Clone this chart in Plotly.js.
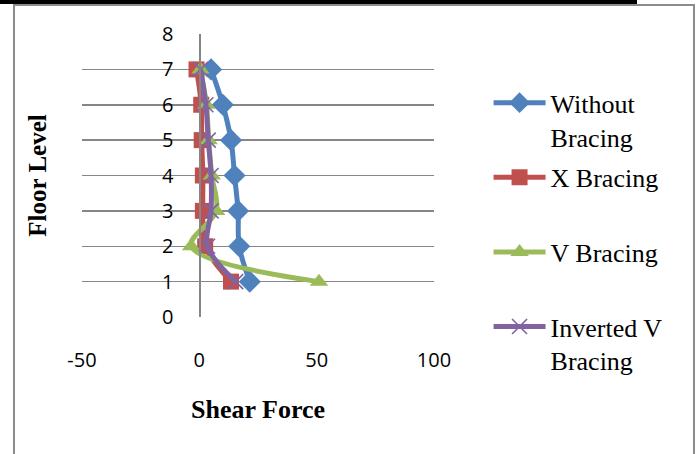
<!DOCTYPE html>
<html><head><meta charset="utf-8">
<script src="https://cdn.plot.ly/plotly-3.0.1.min.js"></script>
<style>
html,body{margin:0;padding:0;background:#fff;overflow:hidden}
#chart{position:absolute;left:0;top:0;width:696px;height:454px}
#topbar{position:absolute;left:0;top:0;width:637px;height:4px;background:#000}
#frame{position:absolute;left:13px;top:4px;width:678px;height:470px;border:2px solid #8c8c8c;border-bottom:none;pointer-events:none}
</style></head><body>
<div id="chart"></div>
<div id="topbar"></div>
<div id="frame"></div>
<script>
// Floor levels (y values)
const floors = [1, 2, 3, 4, 5, 6, 7];
// Shear force per floor for each series
const withoutBracing = [21.5, 17, 16.5, 15, 13.5, 10, 5];
const xBracing = [13.5, 2.5, 1.5, 1.5, 1, 0.8, -1.2];
const vBracing = [51, -3.5, 7.2, 5.3, 4, 3, 0.5];
const invertedVBracing = [15.5, 3.5, 5, 5, 3.8, 2.8, 0.5];
// Legend labels
const seriesNames = ["Without<br>Bracing", "X Bracing<br>\u00A0", "V Bracing<br>\u00A0", "Inverted V<br>Bracing"];
// Axis ticks
const xTicks = [-50, 0, 50, 100];
const yTicks = [0, 1, 2, 3, 4, 5, 6, 7, 8];

const colors = ["#4F81BD", "#C0504D", "#9BBB59", "#8064A2"];
const symbols = ["diamond", "square", "triangle-up", "x-thin"];
const sizes = [17, 16, 16, 15];
const seriesVals = [withoutBracing, xBracing, vBracing, invertedVBracing];

const traces = seriesVals.map((vals, i) => ({
  type: "scatter",
  mode: "lines+markers",
  x: vals,
  y: floors,
  name: seriesNames[i],
  legendgroup: "g" + i,
  line: {color: colors[i], width: 5, shape: "spline", smoothing: 1},
  marker: {
    symbol: symbols[i], size: sizes[i], color: colors[i],
    line: i === 3 ? {color: colors[i], width: 1.6} : {width: 0}
  }
}));

const gridCol = "#868686";
const layout = {
  width: 696, height: 454,
  margin: {l: 82, r: 262, t: 34, b: 137, pad: 0},
  paper_bgcolor: "rgba(0,0,0,0)",
  plot_bgcolor: "rgba(0,0,0,0)",
  showlegend: true,
  legend: {
    x: 1.155, xanchor: "left", y: 0.84, yanchor: "top",
    valign: "top", tracegroupgap: 4, itemwidth: 52, maxheight: 440,
    font: {family: "Liberation Serif", size: 26, color: "#000"},
    bgcolor: "rgba(0,0,0,0)"
  },
  xaxis: {
    range: [-50, 100], tickvals: xTicks, ticktext: xTicks.map(String),
    showgrid: false, zeroline: false, showline: false, ticks: "",
    ticklabelstandoff: 29,
    tickfont: {family: "Open Sans", size: 20, color: "#000"},
    title: {text: "Shear Force", standoff: 27,
            font: {family: "Liberation Serif", size: 26, color: "#000", weight: "bold"}},
    fixedrange: true
  },
  yaxis: {
    range: [0, 8], tickvals: yTicks, ticktext: yTicks.map(String),
    anchor: "free", position: (0 - (-50)) / 150,
    showgrid: true, gridcolor: gridCol, gridwidth: 1.5,
    zeroline: false, showline: true, linecolor: gridCol, linewidth: 1.5,
    ticks: "", ticklabelstandoff: 22,
    tickfont: {family: "Open Sans", size: 20, color: "#000"},
    title: {text: "Floor Level", standoff: 106,
            font: {family: "Liberation Serif", size: 25, color: "#000", weight: "bold"}},
    fixedrange: true
  }
};

Plotly.newPlot("chart", traces, layout, {displayModeBar: false, staticPlot: true});
</script>
</body></html>
